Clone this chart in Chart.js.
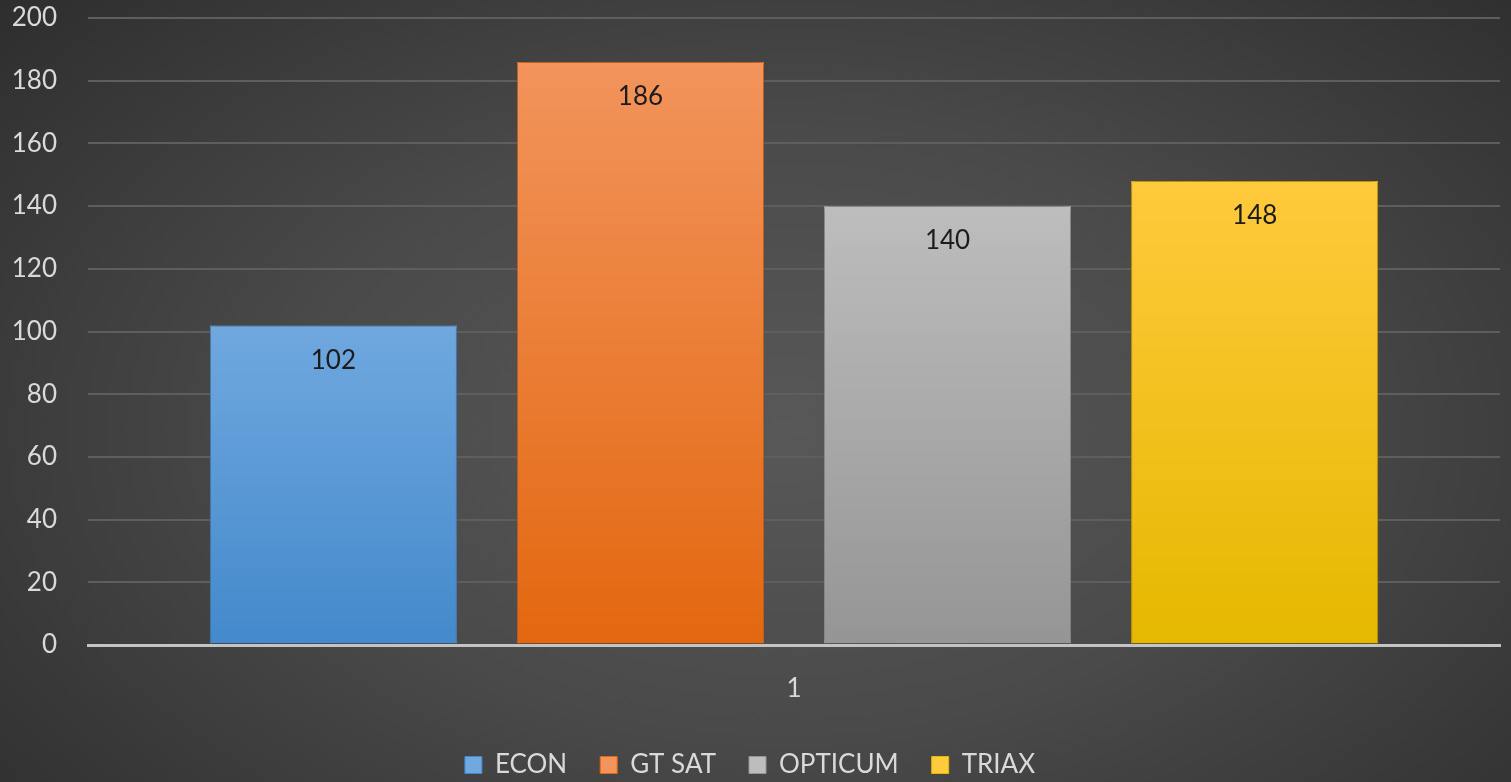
<!DOCTYPE html>
<html>
<head>
<meta charset="utf-8">
<script src="https://cdn.jsdelivr.net/npm/chart.js@4.4.1/dist/chart.umd.min.js"></script>
<style>
    html, body { margin: 0; padding: 0; }
    body {
        width: 1511px;
        height: 782px;
        background: radial-gradient(ellipse 72% 85% at 52% 55%, #585858 0%, #4a4a4a 45%, #2c2c2c 100%);
        overflow: hidden;
    }
    #wrap { width: 1511px; height: 782px; position: relative; }
</style>
</head>
<body>
<div id="wrap"><canvas id="myChart"></canvas></div>
<script>
var categories = ['1'];
var seriesNames = ['ECON', 'GT SAT', 'OPTICUM', 'TRIAX'];
var econValues = [102];
var gtSatValues = [186];
var opticumValues = [140];
var triaxValues = [148];
var yTicks = [0, 20, 40, 60, 80, 100, 120, 140, 160, 180, 200];

// top / bottom colour of each bar's gradient
var topColors = ['#70a8df', '#f2945c', '#bdbdbd', '#ffca3c'];
var bottomColors = ['#4389cb', '#e3670f', '#959595', '#e5b800'];
var borderColors = ['#5d9fe0', '#f07a2c', '#b0b0b0', '#f5c200'];

var fontFamily = 'Lato, "Open Sans", sans-serif';
var myChart;

function barGradient(i) {
    return function (context) {
        var chart = context.chart;
        var area = chart.chartArea;
        if (!area || !chart.scales.y) return bottomColors[i];
        var value = chart.data.datasets[i].data[0];
        var top = chart.scales.y.getPixelForValue(value);
        var g = chart.ctx.createLinearGradient(0, top, 0, area.bottom);
        g.addColorStop(0, topColors[i]);
        g.addColorStop(1, bottomColors[i]);
        return g;
    };
}

var barShadow = {
    id: 'barShadow',
    beforeDatasetDraw: function (chart) {
        var ctx = chart.ctx;
        ctx.save();
        ctx.shadowColor = 'rgba(0,0,0,0.55)';
        ctx.shadowBlur = 7;
        ctx.shadowOffsetX = 0;
        ctx.shadowOffsetY = 0;
    },
    afterDatasetDraw: function (chart) {
        chart.ctx.restore();
    }
};

var valueLabels = {
    id: 'valueLabels',
    afterDatasetsDraw: function (chart) {
        var ctx = chart.ctx;
        ctx.save();
        ctx.font = '26px ' + fontFamily;
        ctx.fillStyle = '#1c1c1c';
        ctx.textAlign = 'center';
        ctx.textBaseline = 'middle';
        chart.data.datasets.forEach(function (ds, i) {
            var meta = chart.getDatasetMeta(i);
            meta.data.forEach(function (bar, j) {
                ctx.fillText(String(ds.data[j]), bar.x, bar.y + 35);
            });
        });
        ctx.restore();
    }
};

function createChart() {
    var ctx = document.getElementById('myChart').getContext('2d');
    var values = [econValues, gtSatValues, opticumValues, triaxValues];
    myChart = new Chart(ctx, {
        type: 'bar',
        data: {
            labels: categories,
            datasets: seriesNames.map(function (name, i) {
                return {
                    label: name,
                    data: values[i],
                    backgroundColor: barGradient(i),
                    borderColor: borderColors[i],
                    borderWidth: 1,
                    borderSkipped: 'bottom'
                };
            })
        },
        options: {
            responsive: true,
            maintainAspectRatio: false,
            animation: false,
            categoryPercentage: 0.87,
            barPercentage: 0.805,
            layout: { padding: { top: 18, right: 11, left: 0, bottom: -6 } },
            plugins: {
                tooltip: { enabled: false },
                legend: {
                    position: 'bottom',
                    labels: {
                        color: '#d9d9d9',
                        font: { family: fontFamily, size: 26 },
                        boxWidth: 17,
                        boxHeight: 17,
                        padding: 33,
                        generateLabels: function (chart) {
                            return chart.data.datasets.map(function (ds, i) {
                                return {
                                    text: ds.label,
                                    fillStyle: topColors[i],
                                    strokeStyle: bottomColors[i],
                                    lineWidth: 1,
                                    fontColor: '#d9d9d9',
                                    datasetIndex: i
                                };
                            });
                        }
                    }
                }
            },
            scales: {
                x: {
                    grid: { display: false },
                    border: { display: true, color: '#c4c4c4', width: 3 },
                    ticks: {
                        color: '#d9d9d9',
                        font: { family: fontFamily, size: 26 },
                        padding: 20
                    },
                    afterFit: function (scale) { scale.height = 74; }
                },
                y: {
                    min: 0,
                    max: 200,
                    afterBuildTicks: function (scale) {
                        scale.ticks = yTicks.map(function (v) { return { value: v }; });
                    },
                    grid: {
                        color: function (c) { return c.tick && c.tick.value === 0 ? '#c4c4c4' : '#5e5e5e'; },
                        lineWidth: function (c) { return c.tick && c.tick.value === 0 ? 3 : 2; },
                        drawTicks: false
                    },
                    border: { display: false },
                    ticks: {
                        color: '#d9d9d9',
                        font: { family: fontFamily, size: 26 },
                        padding: 31
                    },
                    afterFit: function (scale) {
                        scale.width = 88;
                        scale.paddingTop = 0;
                        scale.paddingBottom = 0;
                    }
                }
            }
        },
        plugins: [barShadow, valueLabels]
    });
}

document.addEventListener('DOMContentLoaded', function () {
    createChart();
});
</script>
</body>
</html>
